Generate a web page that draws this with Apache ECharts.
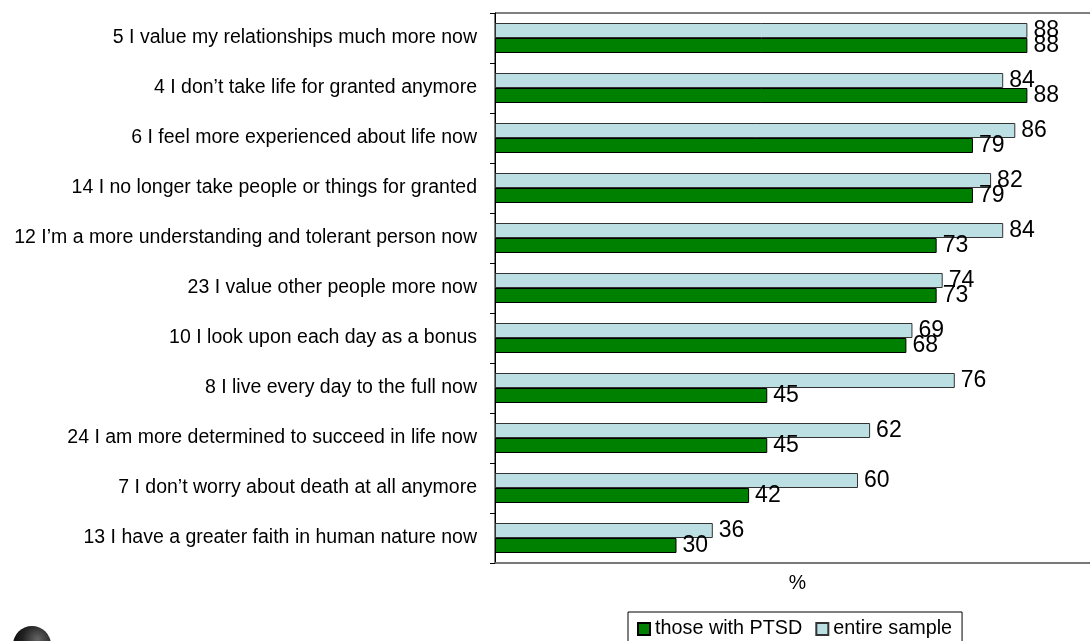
<!DOCTYPE html>
<html>
<head>
<meta charset="utf-8">
<script src="https://cdn.jsdelivr.net/npm/echarts@6/dist/echarts.min.js"></script>
<style>
html,body{margin:0;padding:0;background:#fff;}
#chart{width:1090px;height:641px;}
</style>
</head>
<body>
<div id="chart"></div>
<script>
var categories = [
  "5 I value my relationships much more now",
  "4 I don\u2019t take life for granted anymore",
  "6 I feel more experienced about life now",
  "14 I no longer take people or things for granted",
  "12 I\u2019m a more understanding and tolerant person now",
  "23 I value other people more now",
  "10 I look upon each day as a bonus",
  "8 I live every day to the full now",
  "24 I am more determined to succeed in life now",
  "7 I don\u2019t worry about death at all anymore",
  "13 I have a greater faith in human nature now"
];
var entireSample = [88, 84, 86, 82, 84, 74, 69, 76, 62, 60, 36];
var withPTSD = [88, 88, 79, 79, 73, 73, 68, 45, 45, 42, 30];
var seriesNames = ["those with PTSD", "entire sample"];

var FONT = "'Liberation Sans', Arial, sans-serif";
var chart = echarts.init(document.getElementById('chart'), null, {renderer: 'canvas'});
chart.setOption({
  animation: false,
  backgroundColor: '#fff',
  textStyle: {fontFamily: FONT, color: '#000'},
  grid: {left: 495, top: 13, width: 605, height: 550, outerBoundsMode: 'none', containLabel: false,
         show: true, borderColor: '#000', borderWidth: 1, backgroundColor: 'transparent'},
  xAxis: {
    type: 'value', min: 0, max: 100,
    axisLine: {show: true, lineStyle: {color: '#777', width: 1.5}},
    axisTick: {show: false}, axisLabel: {show: false}, splitLine: {show: false},
    name: '%', nameLocation: 'middle', nameGap: 11,
    nameTextStyle: {fontSize: 19.5, color: '#000', fontFamily: FONT}
  },
  yAxis: {
    type: 'category', data: categories, inverse: true,
    axisLine: {show: true, lineStyle: {color: '#000', width: 1}},
    axisTick: {show: true, length: 5, lineStyle: {color: '#000'}},
    axisLabel: {fontSize: 19.5, color: '#000', margin: 18, fontFamily: FONT}
  },
  legend: {
    left: 628, top: 612,
    data: seriesNames,
    orient: 'horizontal',
    borderColor: '#000', borderWidth: 1,
    padding: [7, 10, 7, 9],
    itemWidth: 12, itemHeight: 12, itemGap: 13,
    icon: 'rect',
    textStyle: {fontSize: 19.8, color: '#000', fontFamily: FONT}
  },
  series: [
    {
      name: seriesNames[1], type: 'bar', data: entireSample,
      barWidth: 15, barGap: '0%',
      itemStyle: {color: '#BBDFE3', borderColor: '#333', borderWidth: 1},
      label: {show: true, position: 'right', distance: 6, fontSize: 23, color: '#000', fontFamily: FONT}
    },
    {
      name: seriesNames[0], type: 'bar', data: withPTSD,
      barWidth: 15, barGap: '0%',
      itemStyle: {color: '#008000', borderColor: '#000', borderWidth: 1},
      label: {show: true, position: 'right', distance: 6, fontSize: 23, color: '#000', fontFamily: FONT}
    }
  ],
  graphic: [
    {
      type: 'circle', left: 13, top: 626,
      shape: {r: 19},
      style: {
        fill: new echarts.graphic.RadialGradient(0.65, 0.35, 0.8, [
          {offset: 0, color: '#666'}, {offset: 0.5, color: '#222'}, {offset: 1, color: '#000'}
        ])
      },
      silent: true
    }
  ]
});
</script>
</body>
</html>
